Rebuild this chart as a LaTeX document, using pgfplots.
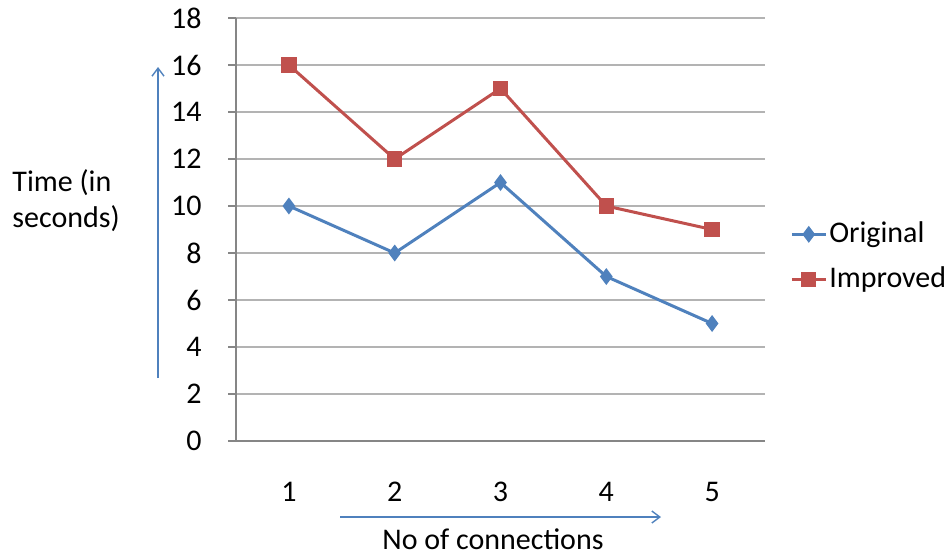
\documentclass[border=0pt]{standalone}
\usepackage{fontspec}
\setmainfont{Carlito}
\usepackage{pgfplots}
\pgfplotsset{compat=1.18}
\usetikzlibrary{arrows.meta}
\definecolor{xlblue}{HTML}{4F81BD}
\definecolor{xlred}{HTML}{C0504D}
\definecolor{axisgray}{HTML}{868686}
\definecolor{gridgray}{HTML}{B3B3B3}
\begin{document}
\fontsize{15}{18}\selectfont
\begin{tikzpicture}
  \useasboundingbox (0pt,0pt) rectangle (472.5pt,277pt);
  \begin{axis}[
    at={(118pt,56.5pt)}, anchor=south west,
    scale only axis,
    width=264.5pt, height=211.5pt,
    xmin=0.5, xmax=5.5, ymin=0, ymax=18,
    axis x line*=bottom, axis y line*=left,
    axis line style={axisgray, line width=1.2pt},
    xtick={1,2,3,4,5},
    major x tick style={draw=none},
    extra x ticks={0.5,1.5,2.5,3.5,4.5,5.5},
    extra x tick labels={},
    extra x tick style={major tick length=5.5pt, tick align=outside,
      tick style={axisgray, line width=0.8pt}},
    ytick={0,2,...,18},
    ymajorgrids,
    grid style={gridgray, line width=0.8pt},
    y tick style={axisgray, line width=0.8pt},
    major tick length=4pt, tick align=outside,
    xticklabel style={yshift=-11.5pt},
    yticklabel style={xshift=-8pt},
    /pgf/number format/assume math mode=true,
    ticklabel style={font=\fontsize{15}{18}\selectfont},
    legend style={at={(1.047,0.435)}, anchor=west, draw=none, fill=none,
      font=\fontsize{15}{18}\selectfont, row sep=6pt, inner sep=0pt,
      nodes={inner xsep=1pt}},
    legend cell align=left,
    legend image code/.code={
      \draw[#1] (0pt,0pt) -- (17pt,0pt);
      \draw[#1] plot coordinates {(8.5pt,0pt)};
    },
  ]
    \addplot[color=xlblue, line width=1.5pt, mark=diamond*, mark size=3pt,
      mark options={solid}] coordinates {
      (1,10) (2,8) (3,11) (4,7) (5,5)
    };
    \addlegendentry{Original}
    \addplot[color=xlred, line width=1.5pt, mark=square*, mark size=3.1pt,
      mark options={solid}] coordinates {
      (1,16) (2,12) (3,15) (4,10) (5,9)
    };
    \addlegendentry{Improved}
  \end{axis}
  \draw[xlblue, line width=0.7pt, -{Straight Barb[length=4pt,width=6pt]}] (79pt,88pt) -- (79pt,243.5pt);
  \draw[xlblue, line width=0.7pt, -{Straight Barb[length=4pt,width=6pt]}] (170pt,18.5pt) -- (330.5pt,18.5pt);
  \node[anchor=base west, inner sep=0pt] at (6pt,181.5pt) {Time (in};
  \node[anchor=base west, inner sep=0pt] at (6pt,163.5pt) {seconds)};
  \node[anchor=base, inner sep=0pt] at (246.5pt,2.5pt) {No of connections};
\end{tikzpicture}
\end{document}
